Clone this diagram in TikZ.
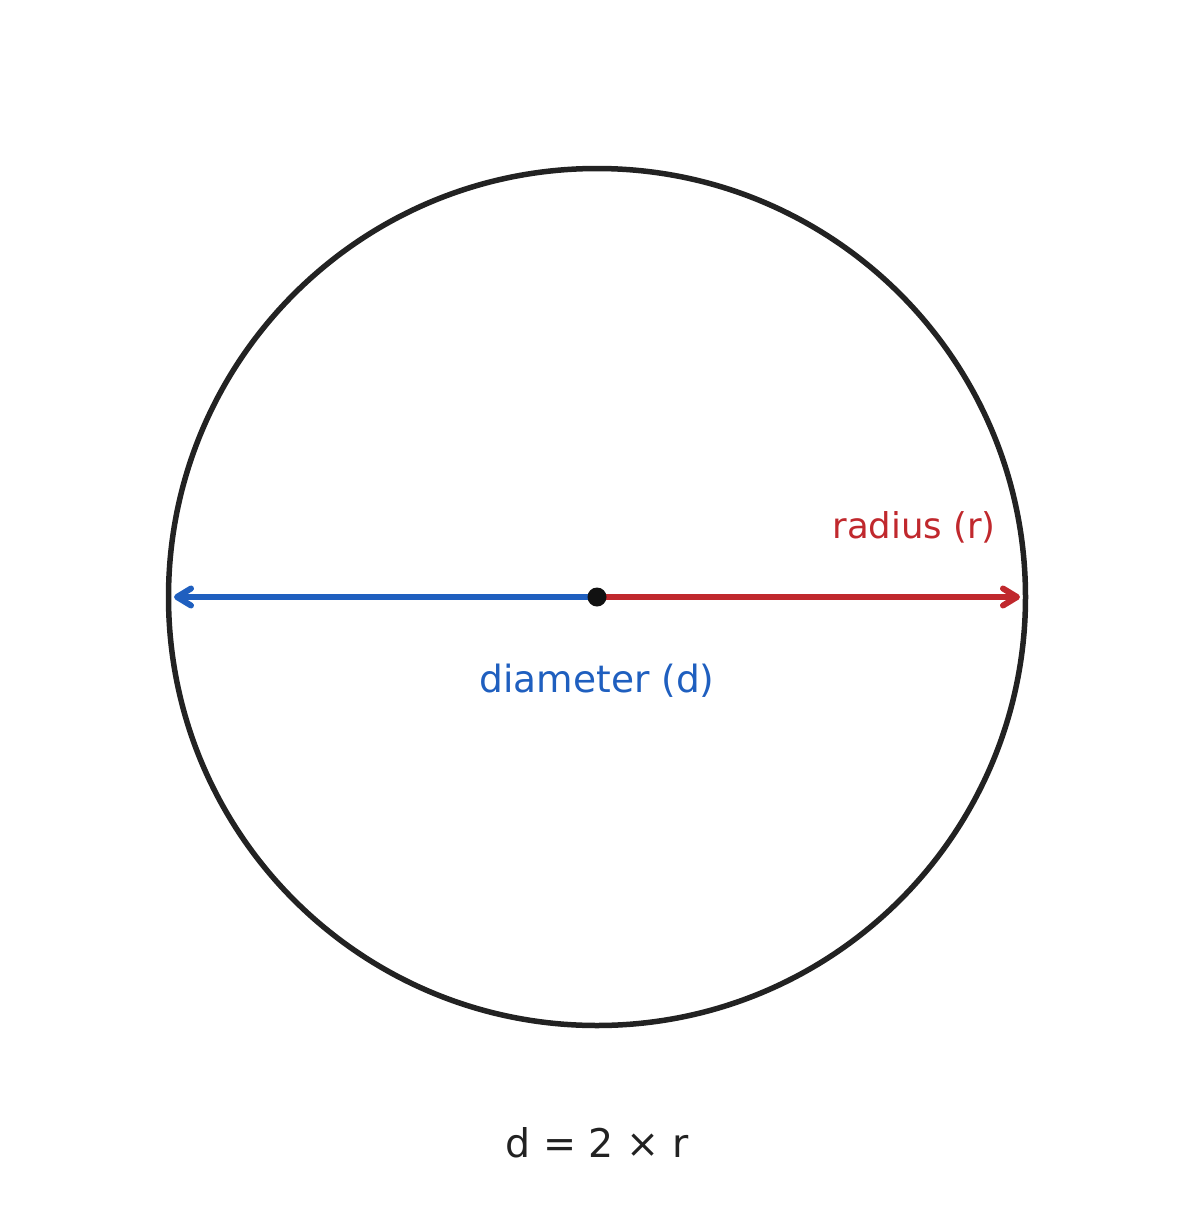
\documentclass[tikz,border=0pt]{standalone}
\usepackage{fontspec}
\setmainfont{DejaVu Sans}
\usetikzlibrary{arrows.meta}
\definecolor{ink}{HTML}{222222}
\definecolor{dblue}{HTML}{1F5FBF}
\definecolor{rred}{HTML}{C0282D}
\definecolor{dot}{HTML}{111111}
\tikzset{
  circ/.style={draw=ink, line width=5.5pt},
  arr/.style={line width=6pt, -{Straight Barb[length=14pt, width=17pt, line cap=round, line join=round]}},
  lbl/.style={inner sep=0pt, anchor=base},
}
\begin{document}
\begin{tikzpicture}[x=1pt, y=-1pt]
\useasboundingbox (0,0) rectangle (1193,1215);
\coordinate (c) at (597,597);
\coordinate (l) at (174,597);
\coordinate (r) at (1020,597);
\draw[circ] (c) circle[radius=428.5];
\draw[arr, dblue] (c) -- (l);
\draw[arr, rred] (c) -- (r);
\fill[dot] (c) circle[radius=9.5];
\node[lbl, anchor=base east, text=rred, font=\fontsize{35.5}{40}\selectfont] (rad) at (996,538) {radius (r)};
\node[lbl, text=dblue, font=\fontsize{37.5}{42}\selectfont] (dia) at (597,692) {diameter (d)};
\node[lbl, text=ink, font=\fontsize{39.5}{44}\selectfont] (form) at (597,1157) {d = 2 × r};
\end{tikzpicture}
\end{document}
